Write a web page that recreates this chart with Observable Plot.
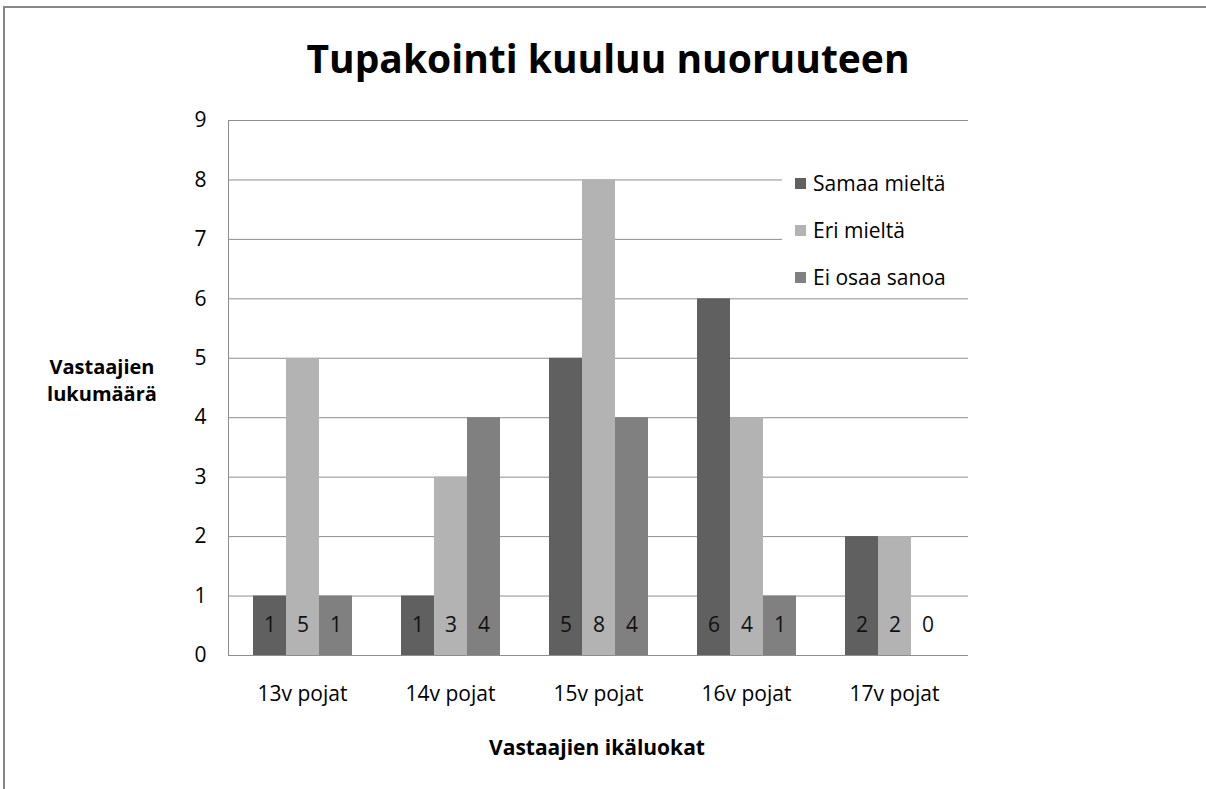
<!DOCTYPE html>
<html><head><meta charset="utf-8">
<script src="https://cdn.jsdelivr.net/npm/d3@7"></script>
<script src="https://cdn.jsdelivr.net/npm/@observablehq/plot@0.6"></script>
<style>
body{margin:0;background:#fff;font-family:"Open Sans",sans-serif;color:#000;}
#wrap{position:relative;width:1206px;height:789px;overflow:hidden;background:#fff;}
#border{position:absolute;left:3px;top:6px;width:1300px;height:900px;border-top:2px solid #878787;border-left:2px solid #878787;}
#chart{position:absolute;left:0;top:0;}
#title{position:absolute;left:5px;top:31px;width:1206px;text-align:center;font-weight:bold;font-size:39px;}
#ytitle{position:absolute;left:32px;top:353px;width:140px;text-align:center;font-weight:bold;font-size:20px;line-height:27px;}
#xtitle{position:absolute;left:397px;top:733px;width:400px;text-align:center;font-weight:bold;font-size:21px;}
#legend{position:absolute;left:782px;top:157px;width:192px;height:141px;background:#fff;}
.row{position:absolute;left:13px;height:26px;display:flex;align-items:center;font-size:21px;white-space:nowrap;}
.sw{width:11px;height:11px;margin-right:7px;}
</style>
</head><body>
<div id="wrap">
  <div id="border"></div>
  <div id="chart"></div>
  <div id="title">Tupakointi kuuluu nuoruuteen</div>
  <div id="ytitle">Vastaajien<br>lukumäärä</div>
  <div id="xtitle">Vastaajien ikäluokat</div>
  <div id="legend"></div>
</div>
<script>
const categories = ["13v pojat", "14v pojat", "15v pojat", "16v pojat", "17v pojat"];
const series = ["Samaa mieltä", "Eri mieltä", "Ei osaa sanoa"];
const samaaMielta = [1, 1, 5, 6, 2];
const eriMielta = [5, 3, 8, 4, 2];
const eiOsaaSanoa = [1, 4, 4, 1, 0];
const yTicks = [0, 1, 2, 3, 4, 5, 6, 7, 8, 9];
const colors = ["#606060", "#b3b3b3", "#808080"];

const valuesBySeries = [samaaMielta, eriMielta, eiOsaaSanoa];
const rows = [];
categories.forEach((c, i) => {
  series.forEach((s, j) => rows.push({cat: c, series: s, value: valuesBySeries[j][i]}));
});

const chart = Plot.plot({
  width: 1206,
  height: 789,
  marginTop: 120,
  marginBottom: 134,
  marginLeft: 227,
  marginRight: 238,
  style: {fontFamily: "'Open Sans', sans-serif", fontSize: "21px", background: "transparent", color: "#000"},
  fx: {domain: categories, padding: 0, label: null},
  x: {domain: series, paddingInner: 0, paddingOuter: 0.74},
  y: {domain: [0, 9], label: null},
  color: {domain: series, range: colors},
  marks: [
    Plot.ruleY(yTicks, {stroke: "#8e8e8e", strokeWidth: 1}),
    Plot.frame({anchor: "left", facetAnchor: "left", stroke: "#8e8e8e"}),
    Plot.barY(rows, {fx: "cat", x: "series", y: "value", fill: "series"}),
    Plot.text(rows, {fx: "cat", x: "series", y: 0, dy: -30, text: "value", fill: "#111", fontSize: 21}),
    Plot.axisY({ticks: yTicks, tickSize: 0, tickPadding: 22, label: null, fontSize: 21}),
    Plot.axisFx({anchor: "bottom", tickSize: 0, tickPadding: 31, label: null, fontSize: 21}),
    Plot.axisX({ticks: [], label: null, tickSize: 0})
  ]
});
document.getElementById("chart").appendChild(chart);

const legend = document.getElementById("legend");
series.forEach((s, j) => {
  const r = document.createElement("div");
  r.className = "row";
  r.style.top = (13 + j * 47) + "px";
  const sw = document.createElement("div");
  sw.className = "sw";
  sw.style.background = colors[j];
  const t = document.createElement("span");
  t.textContent = s;
  r.appendChild(sw);
  r.appendChild(t);
  legend.appendChild(r);
});
</script>
</body></html>
